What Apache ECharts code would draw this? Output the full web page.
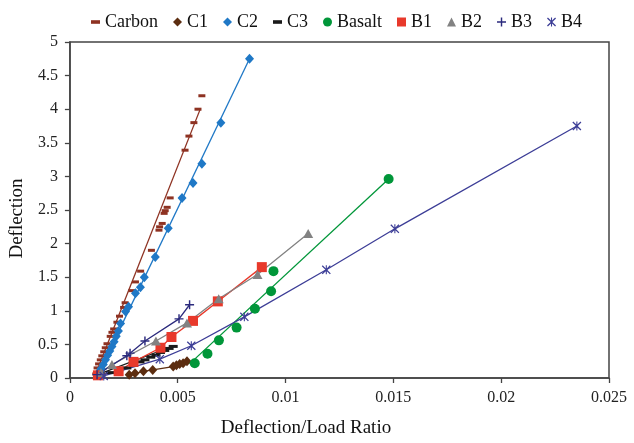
<!DOCTYPE html>
<html><head><meta charset="utf-8">
<script src="https://cdn.jsdelivr.net/npm/echarts@6/dist/echarts.min.js"></script>
<style>html,body{margin:0;padding:0;background:#fff}#c{width:634px;height:443px}</style>
</head><body><div id="c"></div>
<script>
// ---- data ([deflection/load ratio, deflection]) ----
const carbon = [[0.0012,0.06],[0.00126,0.15],[0.00133,0.21],[0.00141,0.27],[0.00148,0.33],[0.00157,0.39],[0.00164,0.45],[0.00172,0.51],[0.00187,0.62],[0.00195,0.68],[0.00203,0.73],[0.00218,0.83],[0.0023,0.92],[0.00249,1.05],[0.00256,1.12],[0.00287,1.30],[0.00304,1.43],[0.00328,1.59],[0.00378,1.90],[0.00413,2.20],[0.00416,2.25],[0.00428,2.30],[0.00437,2.45],[0.00442,2.49],[0.00451,2.54],[0.00465,2.68],[0.00534,3.39],[0.00552,3.60],[0.00575,3.80],[0.00594,4.00],[0.00612,4.20]];
const carbonFit = [[0.00118,0.05],[0.00603,3.99]];
const c1 = [[0.00275,0.05],[0.00302,0.07],[0.00341,0.10],[0.00384,0.12],[0.00479,0.17],[0.00494,0.19],[0.00509,0.21],[0.00525,0.22],[0.00543,0.25]];
const c2 = [[0.0013,0.06],[0.00135,0.09],[0.00145,0.14],[0.00155,0.2],[0.00165,0.27],[0.00175,0.34],[0.00185,0.40],[0.00195,0.47],[0.00205,0.54],[0.00215,0.62],[0.00225,0.70],[0.00235,0.81],[0.00258,0.99],[0.00272,1.06],[0.00304,1.26],[0.00327,1.35],[0.00345,1.50],[0.00396,1.80],[0.00456,2.23],[0.0052,2.68],[0.00571,2.90],[0.00612,3.19],[0.0070,3.80],[0.00833,4.75]];
const c2Fit = [[0.0013,0.05],[0.00833,4.75]];
const c3 = [[0.00141,0.05],[0.00187,0.08],[0.00226,0.11],[0.00264,0.15],[0.00295,0.19],[0.00325,0.24],[0.00348,0.27],[0.00375,0.31],[0.00399,0.34],[0.0042,0.38],[0.0044,0.41],[0.0046,0.44],[0.00479,0.47]];
const c3Fit = [[0.0012,0.04],[0.0048,0.48]];
const basalt = [[0.00579,0.22],[0.00638,0.36],[0.00691,0.56],[0.00773,0.75],[0.00858,1.03],[0.00933,1.29],[0.00944,1.59],[0.01478,2.96]];
const basaltFit = [[0.00555,0.21],[0.01478,2.96]];
const b1 = [[0.0013,0.04],[0.00226,0.10],[0.00295,0.24],[0.0042,0.45],[0.00471,0.61],[0.00571,0.85],[0.00686,1.14],[0.0089,1.65]];
const b2 = [[0.00144,0.08],[0.00195,0.20],[0.00399,0.55],[0.00543,0.82],[0.0069,1.18],[0.0087,1.54],[0.01105,2.15]];
const b3 = [[0.00126,0.05],[0.00264,0.33],[0.00279,0.37],[0.00348,0.55],[0.00506,0.88],[0.00555,1.09]];
const b4 = [[0.00157,0.03],[0.00417,0.28],[0.00563,0.48],[0.00809,0.91],[0.01189,1.61],[0.01507,2.22],[0.02351,3.75]];
const seriesNames = ['Carbon','C1','C2','C3','Basalt','B1','B2','B3','B4'];
const xRange = [0, 0.025, 0.005];
const yRange = [0, 5, 0.5];

const FONT = 'Liberation Serif';
const DASH = 'path://M0,0H10V4H0Z';
const PLUS = 'path://M4.2,0H5.8V10H4.2ZM0,4.2H10V5.8H0Z';
const STAR = 'path://M1,0L5,4L9,0L10,1L6,5L10,9L9,10L5,6L1,10L0,9L4,5L0,1ZM4.4,0H5.6V10H4.4Z';
const col = {Carbon:'#8E3222',C1:'#5C2D10',C2:'#1F78C6',C3:'#1a1a1a',Basalt:'#009639',B1:'#E8392B',B2:'#828282',B3:'#2B2A7D',B4:'#3D3E97'};
const sym = {Carbon:[DASH,[7,3]],C1:['diamond',[9,10]],C2:['diamond',[9,10]],C3:[DASH,[9,3]],Basalt:['circle',10],B1:['rect',10],B2:['triangle',[10,9]],B3:[PLUS,9],B4:[STAR,9]};

function scat(name, data){
  return {name, type:'scatter', data, symbol:sym[name][0], symbolSize:sym[name][1], itemStyle:{color:col[name],opacity:1}, z:3};
}
function fit(name, data){
  return {name:name+' fit', type:'line', data, symbol:'none', lineStyle:{color:col[name],width:1.3}, silent:true, z:2};
}
function conn(name, data){
  return {name, type:'line', data, symbol:sym[name][0], symbolSize:sym[name][1], showSymbol:true,
    itemStyle:{color:col[name],opacity:1}, lineStyle:{color:col[name],width:1.3}, z:3};
}

const chart = echarts.init(document.getElementById('c'));
chart.setOption({
  animation:false,
  backgroundColor:'#fff',
  textStyle:{fontFamily:FONT},
  legend:{
    left:86, top:8, itemWidth:9, itemHeight:9, itemGap:15, symbolKeepAspect:true,
    textStyle:{fontFamily:FONT,fontSize:18,color:'#111'},
    data:seriesNames.map(n=>({name:n, icon:sym[n][0], itemStyle:{color:col[n]}}))
  },
  grid:{left:66,right:25,top:42,bottom:56,show:true,borderColor:'#444',borderWidth:1.5,backgroundColor:'transparent'},
  xAxis:{type:'value',min:xRange[0],max:xRange[1],interval:xRange[2],
    name:'Deflection/Load Ratio',nameLocation:'middle',nameGap:41,
    nameTextStyle:{fontFamily:FONT,fontSize:19,color:'#111',padding:[0,67,0,0]},
    axisLine:{show:true,onZero:false,lineStyle:{color:'#444',width:1.5}},
    axisTick:{show:true,inside:false,length:5,lineStyle:{color:'#444',width:1.3}},
    axisLabel:{fontFamily:FONT,fontSize:16,color:'#222',margin:12},
    splitLine:{show:false}},
  yAxis:{type:'value',min:yRange[0],max:yRange[1],interval:yRange[2],
    name:'Deflection',nameLocation:'middle',nameGap:34,
    nameTextStyle:{fontFamily:FONT,fontSize:19,color:'#111',padding:[0,17,0,0]},
    axisLine:{show:true,onZero:false,lineStyle:{color:'#444',width:1.5}},
    axisTick:{show:true,inside:false,length:5,lineStyle:{color:'#444',width:1.3}},
    axisLabel:{fontFamily:FONT,fontSize:16,color:'#222',margin:12},
    splitLine:{show:false}},
  series:[
    fit('Carbon',carbonFit), scat('Carbon',carbon),
    conn('C1',c1),
    fit('C2',c2Fit), scat('C2',c2),
    fit('C3',c3Fit), scat('C3',c3),
    fit('Basalt',basaltFit), scat('Basalt',basalt),
    conn('B1',b1), conn('B2',b2), conn('B3',b3), conn('B4',b4)
  ]
});
</script></body></html>
